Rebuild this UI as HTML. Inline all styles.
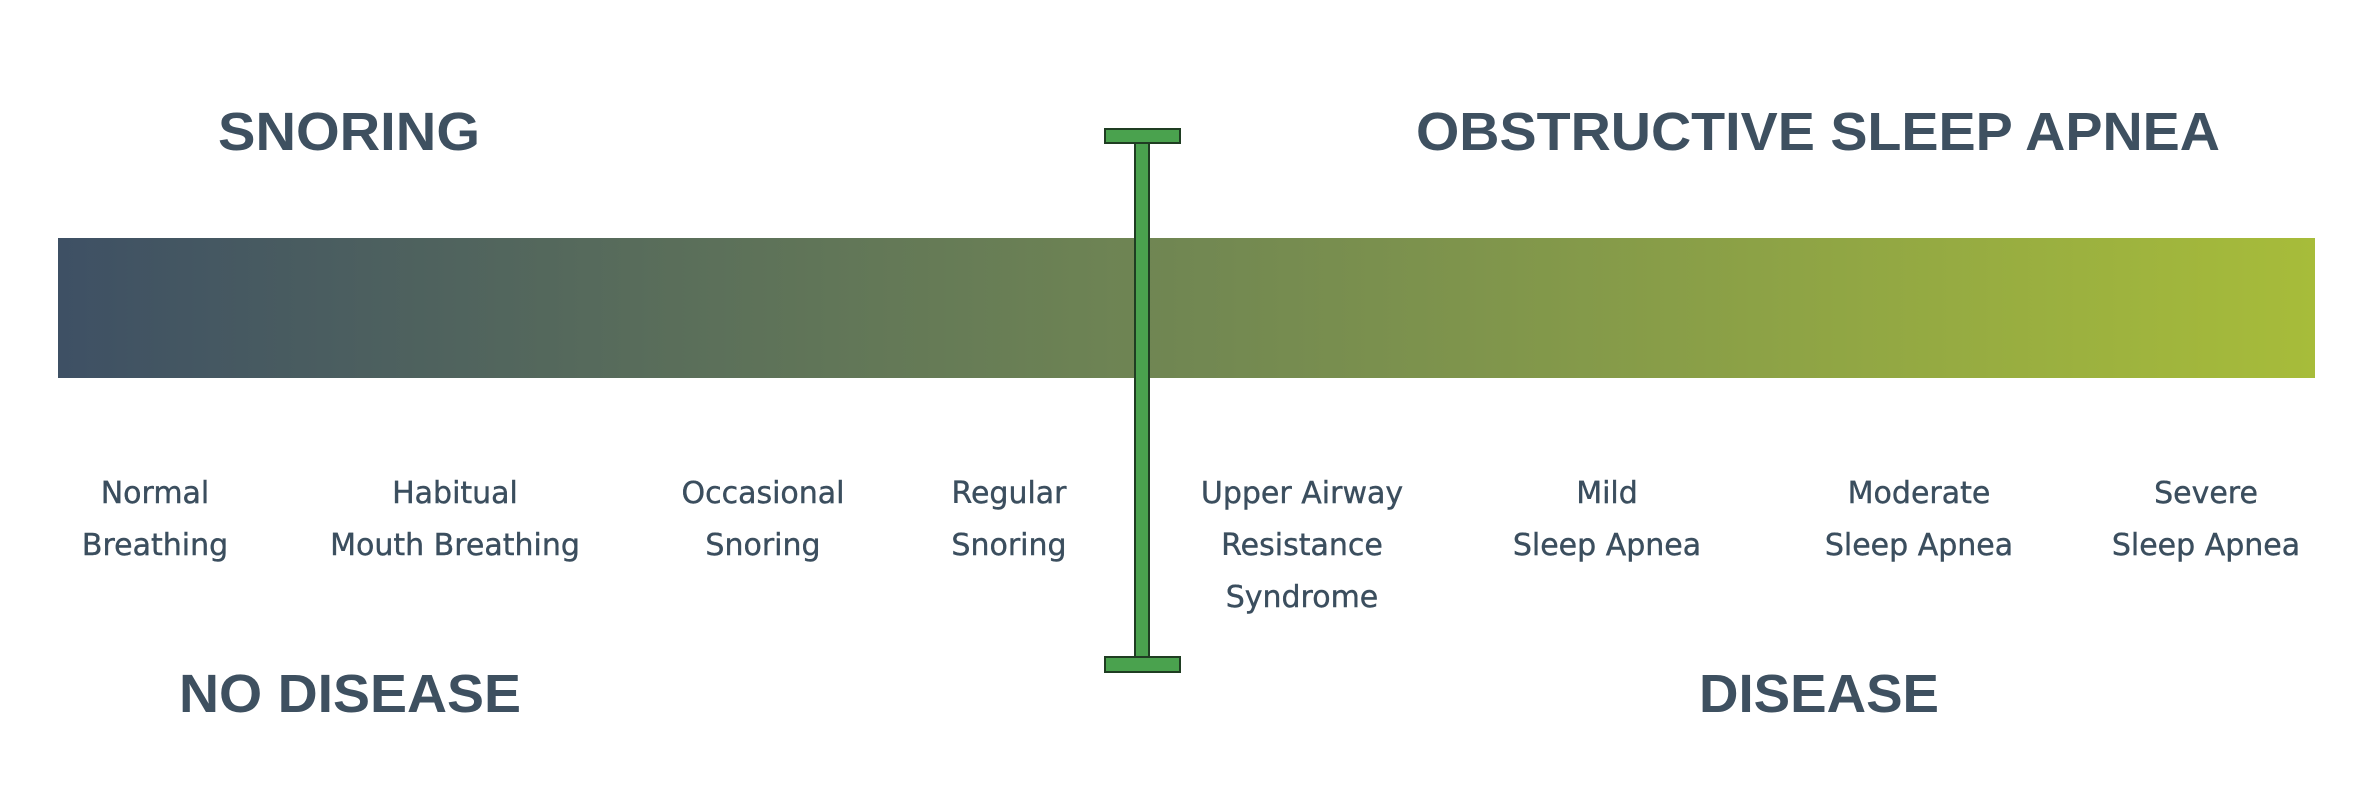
<!DOCTYPE html>
<html><head><meta charset="utf-8"><style>
html,body{margin:0;padding:0;background:#fff;}
svg{display:block}
.t{font-family:"Liberation Sans",sans-serif;font-weight:bold;fill:#3e5060;font-size:54px}
.l{font-family:"DejaVu Sans","Liberation Sans",sans-serif;fill:#3b4e5e;font-size:30px;stroke:#3b4e5e;stroke-width:0.4}
</style></head><body>
<svg width="2355" height="802" viewBox="0 0 2355 802" xmlns="http://www.w3.org/2000/svg">
<defs><linearGradient id="g" x1="0" x2="1" y1="0" y2="0">
<stop offset="0" stop-color="#3e5064"/><stop offset="0.48" stop-color="#6f8553"/><stop offset="1" stop-color="#a7bc3a"/>
</linearGradient></defs>
<rect x="58" y="238" width="2257" height="140" fill="url(#g)"/>
<text class="t" x="349" y="150" text-anchor="middle" textLength="262" lengthAdjust="spacingAndGlyphs">SNORING</text>
<text class="t" x="1818" y="150" text-anchor="middle" textLength="804" lengthAdjust="spacingAndGlyphs">OBSTRUCTIVE SLEEP APNEA</text>
<text class="t" x="350" y="712" text-anchor="middle" textLength="342" lengthAdjust="spacingAndGlyphs">NO DISEASE</text>
<text class="t" x="1819" y="712" text-anchor="middle" textLength="240" lengthAdjust="spacingAndGlyphs">DISEASE</text>
<g class="l" text-anchor="middle">
<text x="155" y="503">Normal</text><text x="155" y="555">Breathing</text>
<text x="455" y="503">Habitual</text><text x="455" y="555">Mouth Breathing</text>
<text x="763" y="503">Occasional</text><text x="763" y="555">Snoring</text>
<text x="1009" y="503">Regular</text><text x="1009" y="555">Snoring</text>
<text x="1302" y="503">Upper Airway</text><text x="1302" y="555">Resistance</text><text x="1302" y="607">Syndrome</text>
<text x="1607" y="503">Mild</text><text x="1607" y="555">Sleep Apnea</text>
<text x="1919" y="503">Moderate</text><text x="1919" y="555">Sleep Apnea</text>
<text x="2206" y="503">Severe</text><text x="2206" y="555">Sleep Apnea</text>
</g>
<g fill="#4aa24e" stroke="#1f3d22" stroke-width="2">
<rect x="1135" y="142" width="14" height="516"/>
<rect x="1105" y="129" width="75" height="14"/>
<rect x="1105" y="657" width="75" height="15"/>
</g>
</svg>
</body></html>
